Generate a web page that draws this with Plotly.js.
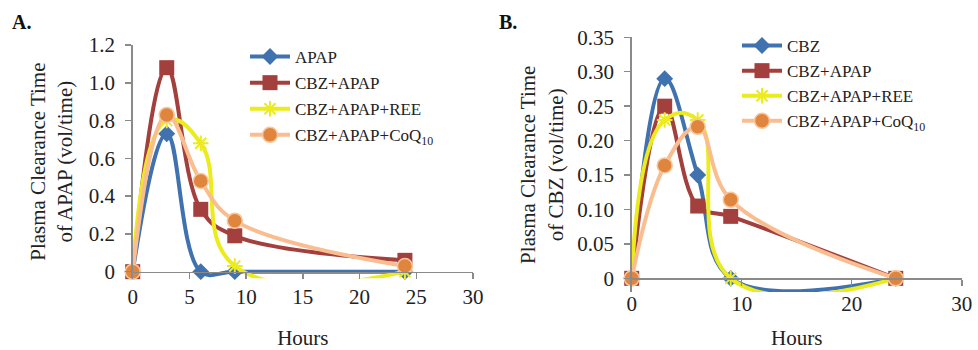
<!DOCTYPE html>
<html>
<head>
<meta charset="utf-8">
<script src="https://cdn.plot.ly/plotly-3.0.1.min.js"></script>
<style>html,body{margin:0;padding:0;background:#fff;}#chart{width:978px;height:350px;}</style>
</head>
<body>
<div id="chart"></div>
<script>
// Hours of sampling
const hours = [0, 3, 6, 9, 24];

// Panel A: plasma clearance time of APAP (vol/time)
const aNames = ["APAP", "CBZ+APAP", "CBZ+APAP+REE", "CBZ+APAP+CoQ<sub>10</sub>"];
const aApap        = [0, 0.73, 0.00, 0.00, 0.00];
const aCbzApap     = [0, 1.08, 0.33, 0.19, 0.06];
const aCbzApapRee  = [0, 0.80, 0.68, 0.03, 0.00];
const aCbzApapCoq  = [0, 0.83, 0.48, 0.27, 0.03];

// Panel B: plasma clearance time of CBZ (vol/time)
const bNames = ["CBZ", "CBZ+APAP", "CBZ+APAP+REE", "CBZ+APAP+CoQ<sub>10</sub>"];
const bCbz         = [0, 0.29, 0.15, 0.00, 0.00];
const bCbzApap     = [0, 0.25, 0.105, 0.09, 0.00];
const bCbzApapRee  = [0, 0.23, 0.23, 0.00, 0.00];
const bCbzApapCoq  = [0, 0.164, 0.22, 0.114, 0.00];

// Tick labels
const aYTickVals = [0, 0.2, 0.4, 0.6, 0.8, 1.0, 1.2];
const aYTickText = ["0", "0.2", "0.4", "0.6", "0.8", "1.0", "1.2"];
const aXTickVals = [0, 5, 10, 15, 20, 25, 30];
const bYTickVals = [0, 0.05, 0.10, 0.15, 0.20, 0.25, 0.30, 0.35];
const bYTickText = ["0", "0.05", "0.10", "0.15", "0.20", "0.25", "0.30", "0.35"];
const bXTickVals = [0, 10, 20, 30];

const FONT = "Liberation Serif";
const styles = [
  {line: {color: "#3F72AF", width: 4, shape: "spline", smoothing: 1.1}, marker: {symbol: "diamond", size: 13, color: "#3F72AF"}},
  {line: {color: "#A3403D", width: 4, shape: "spline", smoothing: 1.1}, marker: {symbol: "square", size: 15, color: "#A3403D"}},
  {line: {color: "#EBEB1E", width: 4, shape: "spline", smoothing: 1.3}, marker: {symbol: "asterisk-open", size: 13, color: "#EBEB1E", line: {width: 2, color: "#EBEB1E"}}},
  {line: {color: "#F9BD8F", width: 4, shape: "spline", smoothing: 1.1}, marker: {symbol: "circle", size: 15, color: "#E0853E", line: {width: 1.5, color: "#F9C79C"}}}
];

function mk(name, y, i, xa, ya, lg) {
  return Object.assign({
    type: "scatter", mode: "lines+markers", x: hours, y: y, name: name,
    xaxis: xa, yaxis: ya, legend: lg, legendgroup: lg + i, cliponaxis: false
  }, JSON.parse(JSON.stringify(styles[i])));
}

const data = [
  mk(aNames[0], aApap, 0, "x", "y", "legend"),
  mk(aNames[1], aCbzApap, 1, "x", "y", "legend"),
  mk(aNames[2], aCbzApapRee, 2, "x", "y", "legend"),
  mk(aNames[3], aCbzApapCoq, 3, "x", "y", "legend"),
  mk(bNames[0], bCbz, 0, "x2", "y2", "legend2"),
  mk(bNames[1], bCbzApap, 1, "x2", "y2", "legend2"),
  mk(bNames[2], bCbzApapRee, 2, "x2", "y2", "legend2"),
  mk(bNames[3], bCbzApapCoq, 3, "x2", "y2", "legend2")
];

const axisCommon = {
  showline: true, linecolor: "#8A8A8A", linewidth: 1.5,
  ticks: "outside", ticklen: 6, tickcolor: "#8A8A8A", tickwidth: 1.5,
  showgrid: false, zeroline: false, fixedrange: true,
  tickfont: {family: FONT, size: 21, color: "#222"}
};

const legendCommon = {
  font: {family: FONT, size: 17, color: "#222"},
  bgcolor: "rgba(0,0,0,0)", itemwidth: 40, traceorder: "grouped",
  yanchor: "top", xanchor: "left"
};

const layout = {
  width: 978, height: 350,
  margin: {l: 0, r: 0, t: 0, b: 0},
  paper_bgcolor: "#fff", plot_bgcolor: "rgba(0,0,0,0)",
  font: {family: FONT, color: "#222"},
  xaxis: Object.assign({}, axisCommon, {
    domain: [0.1357, 0.4836], range: [0, 30], anchor: "free", position: 0.2237,
    tickvals: aXTickVals,
    title: {text: "Hours", font: {family: FONT, size: 21, color: "#222"}, standoff: 23}
  }),
  yaxis: Object.assign({}, axisCommon, {
    domain: [0.2049, 0.8714], range: [-0.035, 1.2], anchor: "x",
    tickvals: aYTickVals, ticktext: aYTickText, ticklabelstandoff: 6,
    title: {text: "Plasma Clearance Time<br>of APAP (vol/time)", font: {family: FONT, size: 21, color: "#222"}, standoff: 10}
  }),
  xaxis2: Object.assign({}, axisCommon, {
    domain: [0.6459, 0.9834], range: [0, 30], anchor: "free", position: 0.2049,
    tickvals: bXTickVals,
    title: {text: "Hours", font: {family: FONT, size: 21, color: "#222"}, standoff: 20}
  }),
  yaxis2: Object.assign({}, axisCommon, {
    domain: [0.1654, 0.8934], range: [-0.02, 0.35], anchor: "x2",
    tickvals: bYTickVals, ticktext: bYTickText, ticklabelstandoff: 6,
    title: {text: "Plasma Clearance Time<br>of CBZ (vol/time)", font: {family: FONT, size: 21, color: "#222"}, standoff: 8}
  }),
  legend: Object.assign({}, legendCommon, {x: 245 / 978, y: (350 - 39) / 350, tracegroupgap: 1}),
  legend2: Object.assign({}, legendCommon, {x: 737 / 978, y: (350 - 28) / 350, tracegroupgap: 0}),
  showlegend: true,
  annotations: [
    {text: "<b>A.</b>", xref: "paper", yref: "paper", x: 10 / 978, y: (350 - 22) / 350,
     xanchor: "left", yanchor: "middle", showarrow: false, font: {family: FONT, size: 20, color: "#111"}},
    {text: "<b>B.</b>", xref: "paper", yref: "paper", x: 497 / 978, y: (350 - 22) / 350,
     xanchor: "left", yanchor: "middle", showarrow: false, font: {family: FONT, size: 20, color: "#111"}}
  ]
};

Plotly.newPlot("chart", data, layout, {displayModeBar: false, staticPlot: true});
</script>
</body>
</html>
